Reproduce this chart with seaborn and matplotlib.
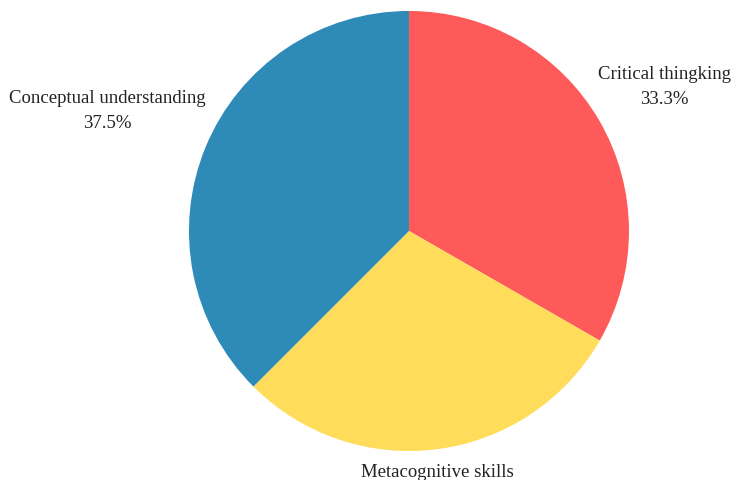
import numpy as np
import matplotlib
matplotlib.use('Agg')
import matplotlib.pyplot as plt
import seaborn as sns

sns.set_style("white")
plt.rcParams['font.family'] = ['Liberation Serif', 'DejaVu Serif']

# data
categories = ['Critical thingking', 'Metacognitive skills', 'Conceptual understanding']
shares = [33.3, 29.2, 37.5]
colors = sns.color_palette(['#ff5a5a', '#ffdc5a', '#2e8bb8'])

# label centres in axis data units (pie radius = 1)
label_pos = [(1.16, 0.66), (0.13, -1.15), (-1.37, 0.55)]

fig = plt.figure(figsize=(7.33, 4.81), dpi=100)
ax = fig.add_axes([0.2578, 0.0603, 0.6003, 0.9148])

wedges, _ = ax.pie(shares, colors=colors, startangle=90, counterclock=False,
                   radius=1, wedgeprops=dict(linewidth=0))

for name, val, (x, y) in zip(categories, shares, label_pos):
    ax.text(x, y, f'{name}\n{val:.1f}%', ha='center', va='center',
            fontsize=13.5, color='#222222', linespacing=1.6, clip_on=False)

ax.set_xlim(-1, 1)
ax.set_ylim(-1, 1)
ax.set_aspect('auto')
ax.axis('off')

plt.savefig('out.png', dpi=100)
plt.close()
